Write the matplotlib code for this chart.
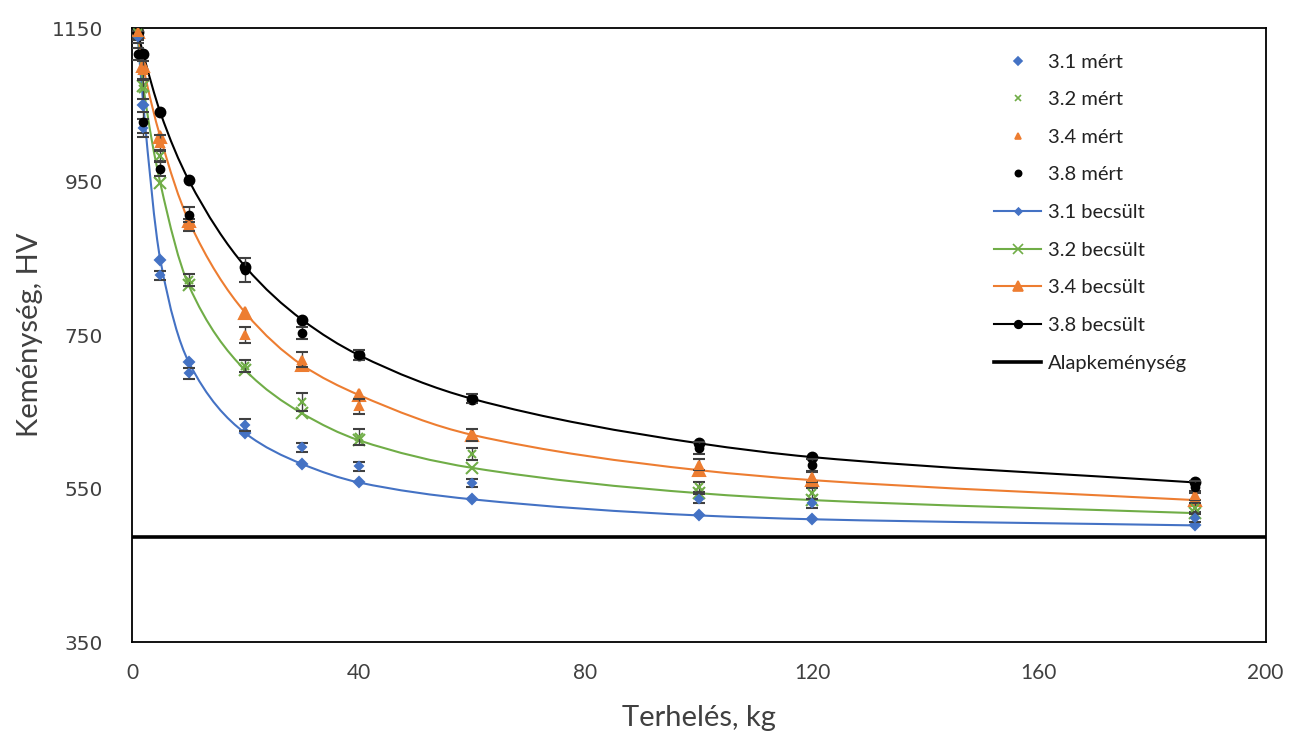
import matplotlib
matplotlib.use("Agg")
import matplotlib.pyplot as plt
import numpy as np
from matplotlib.path import Path
from matplotlib.patches import PathPatch
from matplotlib.lines import Line2D

# terhelés (kg)
load = [1, 2, 5, 10, 20, 30, 40, 60, 100, 120, 187.5]

# mért keménység (HV)
m31 = [1138, 1020, 828, 700, 633, 604, 579, 557, 537, 531, 512]
m32 = [1143, 1070, 983, 822, 710, 663, 617, 595, 552, 544, 525]
m34 = [1145, 1095, 1000, 893, 750, 718, 657, 620, 581, 565, 541]
m38 = [1116, 1027, 967, 907, 835, 753, 724, 667, 603, 581, 552]

# hibák (HV)
e31 = [8, 12, 6, 7, 8, 6, 6, 5, 6, 6, 5]
e32 = [8, 12, 8, 8, 8, 12, 10, 8, 7, 7, 6]
e34 = [8, 12, 10, 8, 10, 10, 10, 8, 7, 7, 6]
e38 = [8, 14, 10, 10, 16, 8, 6, 6, 8, 8, 8]

# becsült keménység (HV)
b31 = [1140, 1050, 848, 715, 622, 582, 558, 536, 515, 510, 502]
b32 = [1145, 1075, 948, 815, 704, 648, 613, 577, 544, 535, 518]
b34 = [1145, 1100, 1008, 899, 779, 711, 672, 620, 574, 561, 535]
b38 = [1145, 1116, 1040, 952, 839, 770, 724, 667, 609, 591, 558]

base_hv = 487

names = ["3.1", "3.2", "3.4", "3.8"]
colors = ["#4472C4", "#70AD47", "#ED7D31", "#000000"]
markers = ["D", "x", "^", "o"]
m_size = [4.5, 6, 6, 5.5]
b_size = [5, 8, 8, 7]

FONT = ["Lato", "DejaVu Sans"]


def smooth_path(xs, ys):
    # smoothed line drawn as cubic Bezier segments (monotone Hermite tangents)
    x = np.asarray(xs, float)
    y = np.asarray(ys, float)
    h = np.diff(x)
    d = np.diff(y) / h
    m = np.zeros_like(y)
    m[0], m[-1] = d[0], d[-1]
    for i in range(1, len(x) - 1):
        if d[i - 1] * d[i] > 0:
            w1 = 2 * h[i] + h[i - 1]
            w2 = h[i] + 2 * h[i - 1]
            m[i] = (w1 + w2) / (w1 / d[i - 1] + w2 / d[i])
    verts = [(x[0], y[0])]
    codes = [Path.MOVETO]
    for i in range(len(x) - 1):
        verts += [(x[i] + h[i] / 3, y[i] + m[i] * h[i] / 3),
                  (x[i + 1] - h[i] / 3, y[i + 1] - m[i + 1] * h[i] / 3),
                  (x[i + 1], y[i + 1])]
        codes += [Path.CURVE4] * 3
    return Path(verts, codes)


fig = plt.figure(figsize=(12.94, 7.38), dpi=100)
ax = fig.add_axes([0.102, 0.130, 0.876, 0.832])

ax.axhline(base_hv, color="black", lw=2.6, zorder=2)

for meas, err, est, c, mk, ms, bs in zip([m31, m32, m34, m38], [e31, e32, e34, e38],
                                         [b31, b32, b34, b38], colors, markers, m_size, b_size):
    ax.add_patch(PathPatch(smooth_path(load, est), fill=False, edgecolor=c, lw=1.5, zorder=3))
    ax.plot(load, est, ls="none", marker=mk, color=c, ms=bs, mew=1.5, zorder=4)
    ax.errorbar(load, meas, yerr=err, fmt=mk, color=c, ms=ms, mew=1.5,
                ecolor="#404040", elinewidth=1, capsize=4, capthick=1, zorder=5)

ax.set_xlim(0, 200)
ax.set_ylim(350, 1150)
ax.set_xticks(np.arange(0, 201, 40))
ax.set_yticks(np.arange(350, 1151, 200))
ax.tick_params(length=0)
ax.tick_params(axis="x", pad=15)
ax.tick_params(axis="y", pad=21)
for lab in ax.get_xticklabels():
    lab.set_family(FONT)
    lab.set_fontsize(15)
    lab.set_color("#404040")
for lab in ax.get_yticklabels():
    lab.set_family("DejaVu Sans")
    lab.set_fontsize(14.5)
    lab.set_color("#404040")
for s in ax.spines.values():
    s.set_linewidth(1.3)

ax.set_xlabel("Terhelés, kg", fontsize=21, family=FONT, color="#404040", labelpad=16)
ax.set_ylabel("Keménység, HV", fontsize=21, family=FONT, color="#404040", labelpad=6)

handles = []
labels = []
for n, c, mk in zip(names, colors, markers):
    handles.append(Line2D([], [], ls="none", marker=mk, color=c, ms=4.5, mew=1.2))
    labels.append(n + " mért")
for n, c, mk, bs in zip(names, colors, markers, b_size):
    handles.append(Line2D([], [], color=c, lw=1.5, marker=mk, ms=bs - 1.5, mew=1.2))
    labels.append(n + " becsült")
handles.append(Line2D([], [], color="black", lw=2.6))
labels.append("Alapkeménység")

ax.legend(handles, labels, loc="upper left", bbox_to_anchor=(0.752, 0.975), frameon=False,
          prop={"family": FONT, "size": 14.5}, labelspacing=1.02,
          handlelength=2.3, handletextpad=0.35, borderpad=0, labelcolor="#222222")

fig.savefig("out.png", dpi=100)
